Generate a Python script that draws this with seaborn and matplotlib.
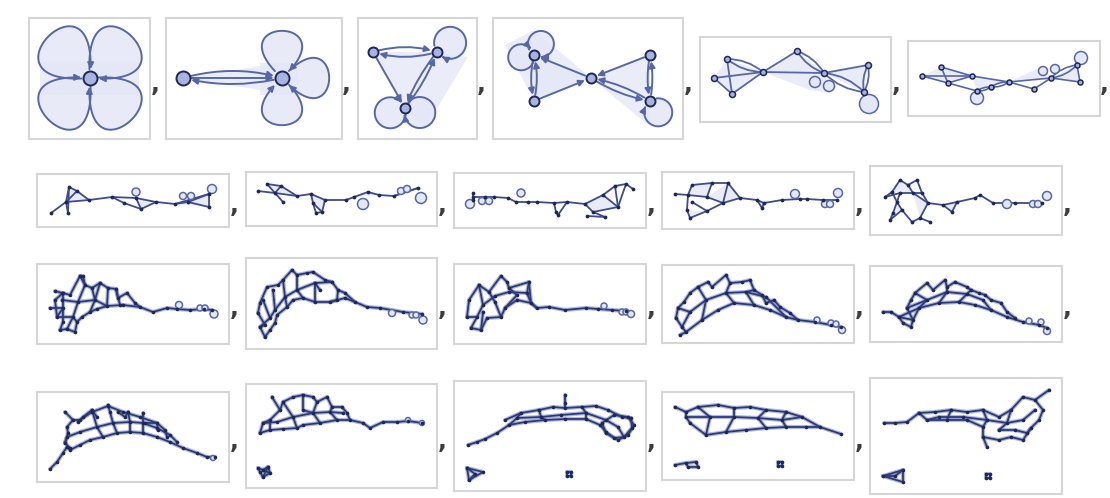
import numpy as np
import matplotlib
matplotlib.use("Agg")
import matplotlib.pyplot as plt
import seaborn as sns
from matplotlib.patches import FancyArrowPatch, Polygon, Circle
from matplotlib.path import Path
from matplotlib.collections import LineCollection

sns.set_theme(style="white")

W, H = 1110, 498
EDGE = "#5767a6"
MID = "#3f4b8a"
DARK = "#1d2758"
DENSE = "#2d3a78"
NODE_LIGHT = "#a9b3df"
FILL = "#e4e8f6"
FRAME = "#d6d6d6"

# ---- panels 1-4: directed hypergraphs with arrows (pixel coords of the picture)
# loops: (node, direction in degrees) for petals, (node, direction, radius) for round loops
p1_nodes = [(90, 78)]
p1_edges = []
p1_loops = [(0, 135), (0, 45), (0, 225), (0, 315)]
p1_fills = [[(40, 62), (139, 62), (139, 95), (40, 95)]]

p2_nodes = [(183, 78), (282, 78)]
p2_edges = [(0, 1, -0.14), (0, 1, 0.0), (1, 0, -0.12)]
p2_loops = [(1, 90), (1, 0), (1, 270)]
p2_fills = [[(183, 78), (260, 66), (298, 63), (298, 95), (260, 90)],
            [(260, 63), (298, 63), (298, 95), (260, 95)]]

p3_nodes = [(373, 52), (437, 52), (405, 108)]
p3_edges = [(0, 1, -0.15), (1, 0, -0.15), (0, 2, 0.0), (1, 2, 0.08), (2, 1, 0.08)]
p3_loops = [(1, 35, 16), (2, 198, 15.5), (2, 343, 15.5)]
p3_fills = [[(373, 52), (437, 52), (405, 108)],
            [(437, 52), (468, 57), (425, 128), (405, 108)]]

p4_nodes = [(534, 55), (534, 101), (591, 78), (650, 55), (650, 101)]
p4_edges = [(2, 0, 0.0), (1, 2, 0.0), (0, 1, 0.12), (1, 0, 0.12), (3, 2, 0.0),
            (2, 4, 0.1), (4, 2, 0.1), (3, 4, 0.1), (4, 3, 0.1)]
p4_loops = [(0, 58, 13), (0, 190, 13), (4, 306, 14)]
p4_fills = [[(534, 55), (534, 101), (591, 78)], [(591, 78), (650, 55), (650, 101)],
            [(505, 45), (534, 30), (591, 78), (534, 101)], [(591, 78), (650, 101), (648, 125)]]

# ---- panels 5-11: smaller hypergraphs, edges as polylines
p5_strands = [[(727, 59), (732, 94)], [(714, 78), (763, 72)], [(714, 78), (732, 94)],
              [(732, 94), (763, 72)], [(763, 72), (797, 51)], [(763, 72), (824, 73)],
              [(824, 73), (868, 65)]]
p5_doubles = [[(727, 59), (763, 72)], [(797, 51), (824, 73)], [(824, 73), (864, 92)],
              [(868, 65), (864, 92)]]
p5_loops = [(815, 82, 5.5), (829, 86, 5.5), (869, 104, 9.5)]
p5_fills = [[(727, 59), (714, 78), (732, 94), (763, 72)], [(763, 72), (797, 51), (824, 73)],
            [(824, 73), (868, 65), (864, 92)], [(763, 72), (810, 90), (830, 93), (824, 73)]]

p6_strands = [[(922, 76), (948, 83)], [(922, 76), (972, 76)], [(941, 67), (972, 76)],
              [(941, 67), (948, 83)], [(948, 83), (972, 76)], [(948, 83), (977, 91)],
              [(972, 76), (1009, 82)], [(1009, 82), (1051, 78)], [(1009, 82), (1034, 89)],
              [(1034, 89), (1051, 78)], [(1051, 78), (1080, 82)], [(1077, 65), (1080, 82)]]
p6_doubles = [[(977, 91), (991, 87)], [(991, 87), (1009, 82)], [(1051, 78), (1077, 65)]]
p6_loops = [(977, 98, 6.5), (1043, 71, 4.5), (1055, 69, 4.5), (1081, 58, 6.5)]
p6_fills = [[(941, 67), (948, 83), (972, 76)], [(972, 76), (977, 91), (1009, 82)],
            [(1051, 78), (1077, 65), (1080, 82)], [(922, 76), (941, 67), (948, 83)],
            [(1009, 82), (1043, 66), (1051, 78)]]

p7_strands = [[(51, 213), (66, 202), (69, 187), (77, 191), (89, 200)],
              [(68, 213), (66, 202), (89, 200)], [(66, 202), (77, 191)], [(68, 213), (69, 187)],
              [(89, 200), (112, 197), (136, 198), (156, 202), (175, 204), (188, 202), (209, 194)],
              [(112, 197), (124, 203), (141, 209), (156, 202)], [(136, 198), (141, 209)],
              [(188, 202), (209, 207), (209, 194)], [(175, 204), (209, 194)]]
p7_loops = [(136, 192, 4), (183, 196, 3.5), (191, 196, 3.5), (212, 189, 4.5)]
p7_fills = [[(66, 202), (69, 187), (77, 191), (89, 200)], [(136, 198), (141, 209), (156, 202)],
            [(175, 204), (188, 202), (209, 194), (209, 207)]]

p8_strands = [[(258, 191), (275, 193), (297, 196), (311, 194), (325, 200), (346, 200),
               (354, 197), (368, 192), (379, 195), (394, 196), (418, 188)],
              [(267, 184), (281, 186), (297, 196)], [(267, 184), (275, 193), (283, 202)],
              [(281, 186), (275, 193)],
              [(311, 194), (313, 203), (316, 213), (322, 212), (325, 200)],
              [(313, 203), (322, 212)], [(394, 196), (418, 188)]]
p8_loops = [(363, 204, 5.5), (401, 191, 3.5), (407, 189, 3.5), (421, 198, 5.5)]
p8_fills = [[(267, 184), (281, 186), (297, 196), (275, 193)],
            [(311, 194), (325, 200), (322, 212), (313, 203)], [(354, 197), (368, 192), (379, 195)]]

p9_strands = [[(473, 193), (473, 200)],
              [(473, 197), (485, 197), (494, 197), (508, 198), (516, 202), (528, 202),
               (537, 202), (554, 203), (567, 202), (585, 204)],
              [(554, 203), (556, 212), (558, 215), (567, 202)],
              [(585, 204), (603, 195), (615, 186), (626, 184), (633, 189)],
              [(585, 204), (593, 212), (605, 217)], [(593, 212), (618, 207), (615, 186)],
              [(603, 195), (618, 207), (626, 184)], [(587, 216), (605, 217)]]
p9_loops = [(470, 204, 4.5), (482, 201, 3.5), (489, 201, 3.5), (521, 193, 4)]
p9_fills = [[(585, 204), (603, 195), (618, 207), (593, 212)], [(603, 195), (615, 186), (626, 184)]]

p10_strands = [[(675, 194), (688, 195), (707, 197), (723, 203), (740, 198)],
               [(692, 185), (712, 183), (728, 183), (740, 198)], [(688, 195), (692, 185)],
               [(688, 195), (687, 210), (690, 218), (707, 211), (723, 203)],
               [(692, 202), (707, 211)], [(712, 183), (707, 197)], [(728, 183), (723, 203)],
               [(740, 198), (757, 200), (764, 203), (762, 208), (757, 200)],
               [(764, 203), (782, 200), (800, 199), (807, 199), (823, 200), (837, 200)]]
p10_loops = [(795, 194, 4.5), (825, 204, 3.5), (830, 204, 3.5), (838, 193, 4.5)]
p10_fills = [[(688, 195), (692, 185), (712, 183), (707, 197)],
             [(707, 197), (728, 183), (740, 198), (723, 203)],
             [(687, 210), (690, 218), (707, 211)], [(757, 200), (764, 203), (762, 208)]]

p11_strands = [[(885, 197), (892, 192), (900, 180), (908, 185), (917, 180), (922, 193)],
               [(885, 197), (900, 193), (913, 193), (922, 193)],
               [(892, 192), (897, 202), (893, 213), (890, 220), (902, 210), (912, 222),
                (920, 218), (930, 222)],
               [(900, 193), (897, 202), (902, 210)], [(913, 193), (928, 203), (920, 218)],
               [(922, 193), (928, 203), (943, 205), (957, 202), (975, 198), (980, 195),
                (993, 203), (1015, 203), (1042, 203)],
               [(943, 205), (952, 212), (957, 202)], [(908, 185), (913, 193)]]
p11_loops = [(1007, 204, 4.5), (1033, 204, 3.5), (1038, 204, 3.5), (1047, 196, 4.5)]
p11_fills = [[(892, 192), (900, 180), (908, 185), (913, 193)],
             [(897, 202), (902, 210), (893, 213)], [(913, 193), (928, 203), (920, 218)],
             [(943, 205), (957, 202), (952, 212)]]

# ---- panels 12-21: dense evolved states, strands
p12_strands = [[(62, 300), (78, 302), (95, 300), (107, 306), (123, 305), (140, 307), (153, 312),
                (167, 308), (177, 309), (190, 310), (204, 309), (212, 310)],
               [(57, 317), (55, 300), (63, 293), (70, 295), (80, 276), (85, 285), (92, 288),
                (100, 283), (108, 288), (116, 289), (118, 298), (127, 293), (135, 303), (140, 307)],
               [(60, 330), (67, 329), (75, 332), (77, 322), (82, 317), (90, 312), (97, 309), (107, 306)],
               [(63, 293), (63, 308), (63, 322), (60, 330)],
               [(85, 285), (78, 302), (73, 317), (67, 329)],
               [(100, 283), (95, 300), (90, 312)], [(116, 289), (120, 305), (123, 305)],
               [(50, 308), (63, 308), (57, 317), (73, 317), (77, 322)],
               [(80, 276), (83, 276), (85, 285)], [(55, 291), (62, 293)],
               [(92, 288), (95, 300)], [(108, 288), (107, 306)]]
p12_loops = [(179, 305, 3.5), (200, 308, 3), (205, 308, 3), (214, 314, 4)]

p13_strands = [[(265, 337), (270, 330), (275, 323), (277, 315), (287, 307), (293, 300), (303, 298),
                (315, 302), (330, 302), (345, 298), (355, 302), (367, 307), (380, 308),
                (403, 312), (422, 314)],
               [(258, 313), (260, 303), (267, 287), (278, 285), (283, 280), (292, 270), (297, 275),
                (307, 273), (313, 272), (325, 280), (332, 282), (338, 290), (345, 293), (355, 302)],
               [(260, 327), (270, 318), (275, 310), (285, 297), (297, 290), (315, 283), (332, 282)],
               [(283, 280), (285, 297), (287, 307)], [(297, 275), (297, 290), (303, 298)],
               [(315, 283), (315, 302)], [(338, 290), (337, 300), (330, 302)],
               [(273, 290), (275, 310)], [(258, 313), (265, 325), (260, 327), (265, 337)],
               [(320, 290), (315, 283)], [(263, 300), (270, 318)]]
p13_loops = [(392, 313, 3.5), (412, 315, 3), (416, 315, 3), (423, 320, 4)]

p14_strands = [[(471, 328), (481, 330), (487, 318), (501, 317), (505, 308), (517, 300), (531, 303),
                (537, 308), (549, 307), (565, 310), (586, 308), (598, 309), (612, 310), (626, 311)],
               [(467, 317), (469, 300), (479, 285), (489, 292), (501, 276), (507, 282), (509, 288),
                (529, 282), (527, 293), (531, 303)],
               [(477, 317), (483, 305), (495, 296), (509, 292), (527, 293)],
               [(489, 292), (495, 302), (501, 317)], [(509, 288), (517, 295), (505, 308)],
               [(479, 285), (483, 305)], [(467, 317), (477, 317), (471, 328)],
               [(483, 312), (481, 330)], [(537, 308), (531, 303), (529, 282)]]
p14_loops = [(604, 306, 3), (622, 312, 3), (626, 312, 3), (631, 314, 3.5)]

p15_strands = [[(686, 332), (702, 320), (718, 310), (734, 303), (754, 305), (770, 310), (786, 317),
                (798, 320), (815, 322), (831, 325), (841, 327)],
               [(676, 318), (678, 308), (684, 302), (690, 293), (698, 287), (708, 282), (712, 287),
                (726, 275), (730, 283), (742, 282), (750, 280), (754, 290), (762, 295), (766, 303),
                (774, 300), (780, 307), (790, 313), (798, 320)],
               [(682, 327), (690, 312), (706, 300), (726, 293), (746, 292), (766, 297), (786, 317)],
               [(698, 287), (706, 300), (702, 320)], [(730, 283), (726, 293), (734, 303)],
               [(754, 290), (746, 292), (754, 305)],
               [(676, 318), (682, 327), (686, 332), (680, 335)], [(678, 308), (690, 312)]]
p15_loops = [(817, 320, 3), (831, 323, 3), (836, 324, 3), (842, 330, 3.5)]

p16_strands = [[(899, 317), (919, 308), (939, 303), (959, 302), (975, 305), (991, 310), (1007, 317),
                (1023, 322), (1039, 325), (1047, 328)],
               [(883, 312), (891, 312), (899, 317), (903, 323), (911, 327), (913, 320), (907, 308),
                (911, 300), (915, 293), (927, 283), (933, 290), (945, 280), (947, 287), (955, 282),
                (967, 287), (971, 290), (979, 293), (985, 295), (991, 300), (1001, 303),
                (1007, 312), (1015, 318)],
               [(907, 308), (927, 300), (947, 292), (967, 294), (983, 300), (991, 310)],
               [(915, 293), (927, 300), (919, 308)], [(947, 287), (947, 292), (939, 303)],
               [(971, 290), (967, 294), (959, 302)], [(899, 317), (913, 320), (919, 308)]]
p16_loops = [(1029, 321, 3), (1041, 322, 3), (1047, 331, 3.5)]

p17_strands = [[(50, 469), (57, 462), (63, 453), (67, 447), (70, 450), (80, 445), (90, 440),
                (103, 437), (117, 433), (130, 432), (143, 433), (157, 437), (170, 442),
                (183, 448), (197, 453), (207, 457), (215, 457)],
               [(65, 443), (67, 437), (80, 432), (97, 427), (113, 423), (130, 422), (143, 423),
                (157, 428), (170, 435), (177, 442)],
               [(68, 433), (67, 427), (73, 420), (80, 420), (92, 412), (108, 406), (123, 412),
                (140, 417), (157, 423), (165, 430), (167, 437)],
               [(65, 412), (73, 420)], [(78, 422), (83, 417), (92, 410), (97, 417)],
               [(92, 410), (97, 427), (103, 437)], [(108, 405), (110, 412), (113, 423), (117, 433)],
               [(118, 412), (125, 417), (128, 412)], [(128, 412), (130, 422), (130, 432)],
               [(143, 413), (143, 423), (143, 433)], [(145, 423), (157, 423), (158, 430)],
               [(65, 443), (70, 448), (67, 447)], [(68, 433), (65, 443)]]
p17_loops = [(213, 458, 2.5)]

p18_strands = [[(260, 433), (270, 430), (283, 429), (297, 428), (303, 425), (320, 423), (337, 420),
                (350, 420), (363, 423), (370, 428), (383, 422), (397, 422), (408, 421), (422, 423)],
               [(260, 433), (263, 423), (270, 420), (280, 410), (283, 402), (293, 397), (303, 395),
                (313, 397), (317, 402), (327, 397), (332, 407), (342, 407), (347, 413), (350, 420)],
               [(263, 423), (277, 422), (293, 417), (313, 413), (330, 412), (343, 413)],
               [(272, 397), (280, 410)], [(283, 402), (293, 417), (297, 428)],
               [(303, 395), (303, 410), (313, 413)], [(317, 402), (313, 413), (320, 423)],
               [(332, 407), (330, 412), (337, 420)], [(270, 420), (270, 430)],
               [(258, 468), (263, 470), (268, 467), (270, 473), (263, 477), (260, 472), (258, 468)],
               [(263, 470), (270, 473)], [(268, 467), (263, 477)]]
p18_loops = [(408, 420, 2.5), (422, 423, 2.5)]

p19_strands = [[(468, 445), (477, 442), (485, 439), (497, 433), (509, 425), (525, 422), (545, 420),
                (565, 419), (586, 419), (600, 425), (606, 432), (614, 438), (624, 437), (632, 428),
                (631, 418)],
               [(505, 420), (521, 413), (539, 410), (553, 407), (565, 408), (582, 407), (596, 406),
                (608, 410), (622, 417), (631, 418)],
               [(509, 425), (517, 418), (541, 417), (561, 415), (586, 413), (606, 420), (618, 427),
                (624, 437)],
               [(565, 395), (565, 403), (565, 408)],
               [(602, 423), (606, 433), (618, 440), (628, 435), (634, 425), (628, 417), (614, 415),
                (602, 423)],
               [(539, 410), (541, 417), (545, 420)], [(582, 407), (586, 413), (586, 419)],
               [(521, 413), (517, 418)],
               [(467, 468), (483, 472), (469, 480), (467, 468)], [(467, 468), (475, 474), (469, 480)],
               [(567, 472), (571, 472), (571, 476), (567, 476), (567, 472)]]
p19_loops = []

p20_strands = [[(675, 407), (686, 412), (698, 407), (718, 405), (734, 408), (750, 407), (766, 410),
                (786, 412), (802, 417), (820, 427), (841, 434)],
               [(690, 423), (706, 435), (726, 432), (746, 430), (766, 428), (786, 427), (806, 427),
                (820, 427)],
               [(686, 412), (686, 417), (710, 417), (734, 417), (758, 418), (782, 420), (802, 417)],
               [(686, 417), (690, 423)], [(698, 407), (710, 417), (706, 435)],
               [(734, 408), (734, 417), (726, 432)], [(766, 410), (758, 418), (766, 428)],
               [(786, 412), (782, 420), (786, 427)],
               [(675, 465), (686, 463), (696, 462), (698, 467), (688, 467), (686, 463)],
               [(778, 462), (782, 462), (782, 466), (778, 466), (778, 462)]]
p20_loops = []

p21_strands = [[(884, 423), (895, 423), (907, 422), (919, 413), (935, 412), (951, 410), (967, 412),
                (983, 410), (999, 417), (1011, 410), (1023, 397), (1035, 400), (1049, 390)],
               [(919, 413), (927, 420), (947, 420), (967, 420), (983, 427), (983, 437), (987, 447)],
               [(983, 437), (999, 440), (1011, 437), (1023, 440), (1031, 428), (1039, 420),
                (1043, 410), (1035, 400)],
               [(927, 420), (939, 417), (963, 417), (987, 420), (1007, 423), (1023, 420), (1035, 410)],
               [(999, 430), (1015, 430), (1027, 433), (1031, 428)],
               [(951, 410), (947, 420)], [(983, 410), (987, 420), (983, 427)],
               [(1011, 410), (1007, 423), (999, 430)],
               [(883, 476), (903, 470), (903, 482), (883, 476)], [(883, 476), (895, 476), (903, 470)],
               [(986, 474), (990, 474), (990, 478), (986, 478), (986, 474)]]
p21_loops = []

# ---- layout: frame boxes (x0, y0, x1, y1) and commas, in picture pixels
boxes = [(29, 18, 150, 139), (166, 18, 342, 139), (358, 18, 477, 139), (493, 18, 683, 139),
         (700, 37, 891, 122), (908, 41, 1100, 116),
         (37, 174, 229, 227), (246, 172, 437, 226), (454, 173, 646, 228), (662, 172, 854, 229),
         (870, 166, 1062, 235),
         (37, 264, 229, 344), (246, 258, 437, 349), (454, 264, 646, 344), (662, 265, 854, 343),
         (870, 266, 1062, 342),
         (37, 392, 229, 482), (246, 384, 437, 488), (454, 381, 646, 491), (662, 392, 854, 480),
         (870, 378, 1062, 494)]
commas = [(155, 84), (346, 84), (481, 84), (688, 84), (896, 84), (1104, 84),
          (234, 205), (442, 205), (651, 205), (859, 205), (1067, 205),
          (234, 308), (442, 308), (651, 308), (859, 308), (1067, 308),
          (234, 441), (442, 441), (651, 441), (859, 441)]

fig = plt.figure(figsize=(W / 100, H / 100), dpi=100)
PT = 0.72  # points per pixel at dpi 100


def frame(box):
    x0, y0, x1, y1 = box
    ax = fig.add_axes([x0 / W, 1 - y1 / H, (x1 - x0) / W, (y1 - y0) / H])
    ax.set_xticks([])
    ax.set_yticks([])
    for s in ax.spines.values():
        s.set_color(FRAME)
        s.set_linewidth(1.5)
    return ax


def fix_limits(ax, box):
    x0, y0, x1, y1 = box
    ax.set_xlim(x0, x1)
    ax.set_ylim(y1, y0)
    ax.set_xlabel("")
    ax.set_ylabel("")


def loop_shape(cx, cy, loop, size, spread):
    p0 = np.array([cx, cy])
    if len(loop) == 3:
        # round self-loop: a circle passing through the node
        rr = loop[2]
        a = np.radians(loop[1])
        c = p0 + rr * np.array([np.cos(a), -np.sin(a)])
        s0 = np.arctan2(cy - c[1], cx - c[0])
        s = s0 + np.linspace(0, 2 * np.pi, 90)
        return np.column_stack([c[0] + rr * np.cos(s), c[1] + rr * np.sin(s)])
    # petal-shaped self-loop: cubic Bezier leaving and returning to the node
    ang = loop[1]
    a1, a2 = np.radians(ang + spread), np.radians(ang - spread)
    p1 = p0 + size * np.array([np.cos(a1), -np.sin(a1)])
    p2 = p0 + size * np.array([np.cos(a2), -np.sin(a2)])
    t = np.linspace(0, 1, 80)[:, None]
    return ((1 - t) ** 3 + t ** 3) * p0 + 3 * (1 - t) ** 2 * t * p1 + 3 * (1 - t) * t ** 2 * p2


def arrow_panel(box, nodes, edges, loops, fills, r, lsize=0, spread=0):
    ax = frame(box)
    for poly in fills:
        ax.add_patch(Polygon(poly, closed=True, fc=FILL, ec="none", alpha=0.75, zorder=1))
    for loop in loops:
        cx, cy = nodes[loop[0]]
        pts = loop_shape(cx, cy, loop, lsize, spread)
        ax.fill(pts[:, 0], pts[:, 1], color=FILL, alpha=0.85, lw=0, zorder=1)
        d = np.hypot(pts[:, 0] - cx, pts[:, 1] - cy)
        keep = pts[d > r + 1.5]
        ax.add_patch(FancyArrowPatch(path=Path(keep), arrowstyle="-|>", mutation_scale=9,
                                     color=EDGE, lw=1.4, zorder=3))
    for i, j, rad in edges:
        ax.add_patch(FancyArrowPatch(nodes[i], nodes[j], connectionstyle=f"arc3,rad={rad}",
                                     arrowstyle="-|>", mutation_scale=9, color=EDGE, lw=1.4,
                                     shrinkA=r * PT + 1, shrinkB=r * PT + 1, zorder=3))
    xs, ys = zip(*nodes)
    sns.scatterplot(x=list(xs), y=list(ys), s=(2 * r * PT) ** 2, color=NODE_LIGHT,
                    edgecolor=DARK, linewidth=1.4, ax=ax, zorder=5, legend=False)
    fix_limits(ax, box)


def strand_panel(box, strands, loops, fills=(), doubles=(), r=1.6, light=False, lw=1.1,
                 color=DENSE, halo=0.0):
    ax = frame(box)
    for poly in fills:
        ax.add_patch(Polygon(poly, closed=True, fc=FILL, ec="none", alpha=0.8, zorder=1))
    if halo:
        ax.add_collection(LineCollection(strands, colors="#7281bd", linewidths=halo, alpha=0.55,
                                         zorder=2, capstyle="round", joinstyle="round"))
    ax.add_collection(LineCollection(strands, colors=color, linewidths=lw, zorder=2,
                                     capstyle="round", joinstyle="round"))
    for a, b in doubles:
        for rad in (0.18, -0.18):
            ax.add_patch(FancyArrowPatch(a, b, connectionstyle=f"arc3,rad={rad}", arrowstyle="-",
                                         color=color, lw=lw, shrinkA=0, shrinkB=0, zorder=2))
    for x, y, rr in loops:
        ax.add_patch(Circle((x, y), rr, fc=FILL, ec=EDGE, lw=1.1, zorder=3))
    pts = sorted({p for s in strands for p in s} | {p for d in doubles for p in d})
    xs, ys = zip(*pts)
    if light:
        sns.scatterplot(x=list(xs), y=list(ys), s=(2 * r * PT) ** 2, color=NODE_LIGHT,
                        edgecolor=DARK, linewidth=1.1, ax=ax, zorder=5, legend=False)
    else:
        sns.scatterplot(x=list(xs), y=list(ys), s=(2 * r * PT) ** 2, color=DARK,
                        edgecolor=DARK, linewidth=0, ax=ax, zorder=5, legend=False)
    fix_limits(ax, box)


arrow_panel(boxes[0], p1_nodes, p1_edges, p1_loops, p1_fills, 7, 122, 50)
arrow_panel(boxes[1], p2_nodes, p2_edges, p2_loops, p2_fills, 7, 94, 48)
arrow_panel(boxes[2], p3_nodes, p3_edges, p3_loops, p3_fills, 5)
arrow_panel(boxes[3], p4_nodes, p4_edges, p4_loops, p4_fills, 5)

strand_panel(boxes[4], p5_strands, p5_loops, p5_fills, p5_doubles, r=3, light=True, lw=1.3,
             color=EDGE)
strand_panel(boxes[5], p6_strands, p6_loops, p6_fills, p6_doubles, r=2.5, light=True, lw=1.2,
             color=EDGE)
strand_panel(boxes[6], p7_strands, p7_loops, p7_fills, r=1.9, lw=1.3, color=MID)
strand_panel(boxes[7], p8_strands, p8_loops, p8_fills, r=1.9, lw=1.3, color=MID)
strand_panel(boxes[8], p9_strands, p9_loops, p9_fills, r=1.9, lw=1.3, color=MID)
strand_panel(boxes[9], p10_strands, p10_loops, p10_fills, r=1.9, lw=1.3, color=MID)
strand_panel(boxes[10], p11_strands, p11_loops, p11_fills, r=1.9, lw=1.3, color=MID)

dense = [(p12_strands, p12_loops), (p13_strands, p13_loops), (p14_strands, p14_loops),
         (p15_strands, p15_loops), (p16_strands, p16_loops), (p17_strands, p17_loops),
         (p18_strands, p18_loops), (p19_strands, p19_loops), (p20_strands, p20_loops),
         (p21_strands, p21_loops)]
for k, (st, lp) in enumerate(dense):
    strand_panel(boxes[11 + k], st, lp, r=1.8, lw=1.3, halo=3.0)

for x, y in commas:
    fig.text(x / W, 1 - y / H, ",", fontsize=17, fontweight="bold", color="#3c3c3c",
             ha="center", va="center")

fig.savefig("out.png", dpi=100)
